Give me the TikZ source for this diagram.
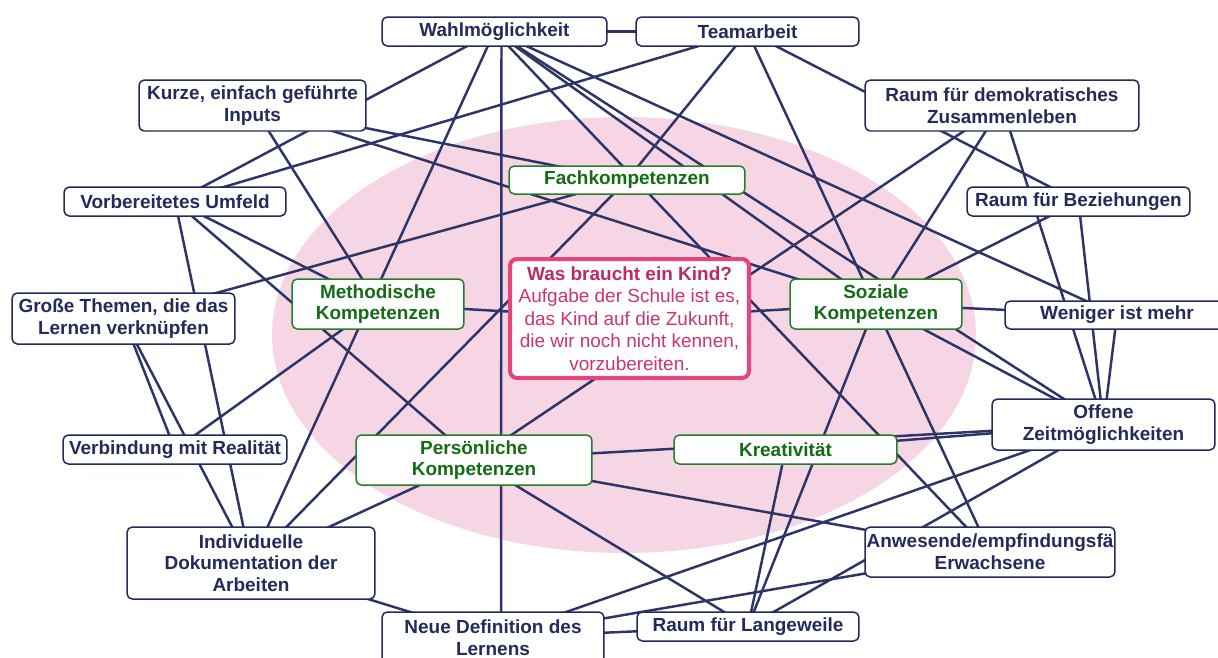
\documentclass[tikz,border=0pt]{standalone}
\usepackage{fontspec}
\setmainfont{Liberation Sans}
\definecolor{navy}{RGB}{36,43,92}
\definecolor{lnk}{RGB}{44,52,104}
\definecolor{grn}{RGB}{40,125,40}
\definecolor{grnt}{RGB}{20,108,20}
\definecolor{pinkb}{RGB}{226,70,125}
\definecolor{pinkt}{RGB}{188,42,102}
\definecolor{pinkx}{RGB}{204,52,112}
\definecolor{ellfill}{RGB}{246,214,228}
\pgfdeclarelayer{ell}
\pgfdeclarelayer{edges}
\pgfsetlayers{ell,edges,main}
\begin{document}
\begin{tikzpicture}[x=0.02cm,y=-0.02cm,
  box/.style={draw=navy, line width=0.85pt, fill=white, rounded corners=3pt, text=navy,
    font=\fontsize{10.8}{12.4}\selectfont\bfseries, align=center, inner sep=0pt},
  gbox/.style={box, draw=grn, text=grnt},
  link/.style={draw=lnk, line width=1.4pt},
]
\useasboundingbox (0,0) rectangle (1218,657);
\begin{pgfonlayer}{ell}
\fill[white] (0,0) rectangle (1218,657);
\fill[ellfill] (624,335) ellipse (7.04cm and 4.36cm);
\end{pgfonlayer}

\node[box, minimum width=4.5cm, minimum height=0.58cm] (wahl) at (494.5,31.5) {Wahlmöglichkeit};
\node[box, minimum width=4.46cm, minimum height=0.58cm] (team) at (747.5,31.5) {Teamarbeit};
\node[box, minimum width=4.54cm, minimum height=1.02cm] (kurze) at (252.5,105.5) {Kurze, einfach geführte\\Inputs};
\node[box, minimum width=5.48cm, minimum height=1.02cm] (demo) at (1002,105.5) {Raum für demokratisches\\Zusammenleben};
\node[gbox, minimum width=4.72cm, minimum height=0.56cm] (fach) at (627,180) {Fachkompetenzen};
\node[box, minimum width=4.44cm, minimum height=0.58cm] (vorb) at (175,201.5) {Vorbereitetes Umfeld};
\node[box, minimum width=4.46cm, minimum height=0.58cm] (bez) at (1078.5,201.5) {Raum für Beziehungen};
\node[box, minimum width=4.46cm, minimum height=1.02cm] (gross) at (123.5,318.5) {Große Themen, die das\\Lernen verknüpfen};
\node[gbox, minimum width=3.44cm, minimum height=1.0cm] (meth) at (378,304) {Methodische\\Kompetenzen};
\node[draw=pinkb, line width=2.3pt, fill=white, rounded corners=4pt, text=pinkx,
  font=\fontsize{10.8}{12.75}\selectfont, align=center, inner sep=0pt,
  minimum width=4.78cm, minimum height=2.38cm] (kind) at (629.5,318.5)
  {{\bfseries\color{pinkt}Was braucht ein Kind?}\\Aufgabe der Schule ist es,\\das Kind auf die Zukunft,\\die wir noch nicht kennen,\\vorzubereiten.};
\node[gbox, minimum width=3.44cm, minimum height=1.0cm] (soz) at (876,304) {Soziale\\Kompetenzen};
\node[box, minimum width=4.48cm, minimum height=0.56cm] (wen) at (1117,315) {Weniger ist mehr};
\node[box, minimum width=4.46cm, minimum height=1.02cm] (offen) at (1103.5,424.5) {Offene\\Zeitmöglichkeiten};
\node[box, minimum width=4.48cm, minimum height=0.58cm] (verb) at (175,449.5) {Verbindung mit Realität};
\node[gbox, minimum width=4.72cm, minimum height=1.0cm] (pers) at (474,460) {Persönliche\\Kompetenzen};
\node[gbox, minimum width=4.46cm, minimum height=0.58cm] (kreat) at (785.5,449.5) {Kreativität};
\node[box, minimum width=4.96cm, minimum height=1.44cm] (indiv) at (251,563) {Individuelle\\Dokumentation der\\Arbeiten};
\node[box, minimum width=5.0cm, minimum height=1.0cm] (anw) at (990,552) {Anwesende/empfindungsfä\\Erwachsene};
\node[box, minimum width=4.44cm, minimum height=1.02cm] (neue) at (493,637.5) {Neue Definition des\\Lernens};
\node[box, minimum width=4.44cm, minimum height=0.58cm] (lang) at (748,626.5) {Raum für Langeweile};

\begin{pgfonlayer}{edges}
\foreach \a/\b in {wahl/team, vorb/wahl, wahl/indiv, wahl/anw, wahl/soz,
  wahl/offen, wahl/wen, vorb/team, team/fach, team/anw, team/bez, kurze/soz,
  kurze/meth, kurze/fach, gross/fach, gross/verb, gross/indiv, vorb/indiv, vorb/pers,
  vorb/meth, verb/meth, indiv/fach, indiv/pers, meth/kind, demo/soz, demo/offen,
  demo/pers, bez/soz, bez/offen, soz/wen, wen/offen, soz/offen, soz/kind, soz/lang,
  kreat/lang, kreat/offen, pers/offen, pers/anw, pers/lang, offen/neue, offen/lang,
  anw/neue, indiv/neue, neue/lang}
  \draw[link] (\a.center) -- (\b.center);
\draw[link] ([xshift=0.14cm]wahl.center) -- ([xshift=0.16cm]neue.center);
\end{pgfonlayer}
\end{tikzpicture}
\end{document}
